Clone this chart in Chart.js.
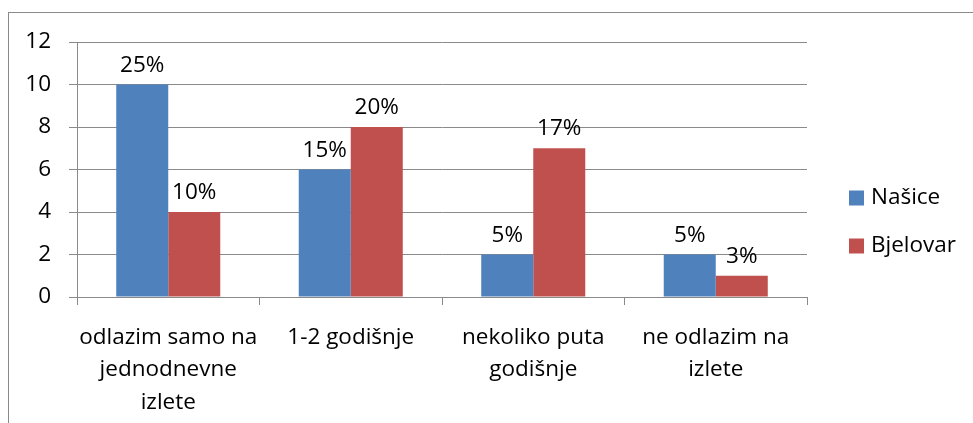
<!DOCTYPE html>
<html>
<head>
<meta charset="utf-8">
<script src="https://cdn.jsdelivr.net/npm/chart.js@4/dist/chart.umd.min.js"></script>
<style>
  html, body { margin: 0; padding: 0; background: #fff; overflow: hidden; }
  #frame { position: absolute; left: 8px; top: 12px; width: 1100px; height: 600px; border: 1px solid #8a8a8a; }
  #chart { position: absolute; left: 0; top: 0; }
</style>
</head>
<body>
<div id="frame"></div>
<canvas id="chart" width="973" height="423"></canvas>
<script>
// categories, counts and the percent labels shown above each bar
const categories = [
  ['odlazim samo na', 'jednodnevne', 'izlete'],
  '1-2 godišnje',
  ['nekoliko puta', 'godišnje'],
  ['ne odlazim na', 'izlete'],
];
const nasice = [10, 6, 2, 2];
const bjelovar = [4, 8, 7, 1];
const nasicePct = ['25%', '15%', '5%', '5%'];
const bjelovarPct = ['10%', '20%', '17%', '3%'];
const yTicks = [0, 2, 4, 6, 8, 10, 12];

const FONT = "'Open Sans', 'Liberation Sans', sans-serif";
const FONT_SIZE = 22.5;
const GRID = '#8a8a8a';
const COLORS = { nasice: '#4f81bd', bjelovar: '#c0504d' };

// ── percent labels above the bars ───────────────────────────────────────────
const pctLabels = {
  id: 'pctLabels',
  afterDatasetsDraw(chart) {
    const { ctx } = chart;
    const sets = [nasicePct, bjelovarPct];
    ctx.save();
    ctx.font = `${FONT_SIZE}px ${FONT}`;
    ctx.fillStyle = '#000';
    ctx.textAlign = 'center';
    ctx.textBaseline = 'alphabetic';
    chart.data.datasets.forEach((ds, i) => {
      chart.getDatasetMeta(i).data.forEach((bar, j) => {
        ctx.fillText(sets[i][j], bar.x, bar.y - 13);
      });
    });
    ctx.restore();
  }
};

// ── legend on the right ─────────────────────────────────────────────────────
const sideLegend = {
  id: 'sideLegend',
  afterDraw(chart) {
    const { ctx } = chart;
    ctx.save();
    ctx.font = `${FONT_SIZE}px ${FONT}`;
    ctx.textBaseline = 'middle';
    chart.data.datasets.forEach((ds, i) => {
      const y = 198 + i * 48;
      ctx.fillStyle = ds.backgroundColor;
      ctx.fillRect(849, y - 7.5, 15, 15);
      ctx.fillStyle = '#000';
      ctx.fillText(ds.label, 871, y);
    });
    ctx.restore();
  }
};

new Chart(document.getElementById('chart'), {
  type: 'bar',
  data: {
    labels: categories,
    datasets: [
      { label: 'Našice', data: nasice, backgroundColor: COLORS.nasice },
      { label: 'Bjelovar', data: bjelovar, backgroundColor: COLORS.bjelovar },
    ]
  },
  options: {
    responsive: false,
    animation: false,
    events: [],
    layout: { padding: { left: 0, top: 42, right: 166, bottom: 0 } },
    datasets: { bar: { categoryPercentage: 0.57, barPercentage: 1.0 } },
    scales: {
      x: {
        afterFit: s => { s.height = 126; },
        grid: { offset: true, drawOnChartArea: false, tickLength: 8, color: GRID },
        border: { color: GRID },
        ticks: {
          color: '#000', padding: 16, maxRotation: 0, autoSkip: false,
          font: { family: FONT, size: FONT_SIZE, lineHeight: 1.45 }
        }
      },
      y: {
        min: 0, max: 12,
        afterFit: s => { s.width = 77; },
        afterBuildTicks: s => { s.ticks = yTicks.map(v => ({ value: v })); },
        grid: { color: GRID, tickLength: 8 },
        border: { color: GRID },
        ticks: { color: '#000', padding: 18, font: { family: FONT, size: FONT_SIZE } }
      }
    },
    plugins: { legend: { display: false }, tooltip: { enabled: false } }
  },
  plugins: [pctLabels, sideLegend]
});
</script>
</body>
</html>
